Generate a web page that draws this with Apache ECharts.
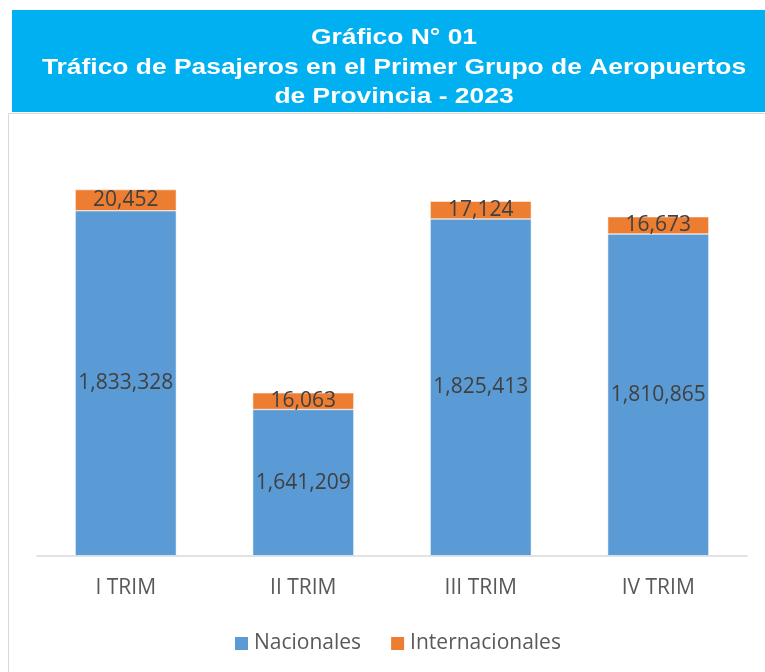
<!DOCTYPE html>
<html><head><meta charset="utf-8">
<script src="https://cdn.jsdelivr.net/npm/echarts@6/dist/echarts.min.js"></script>
<style>html,body{margin:0;padding:0;background:#fff}#c{width:765px;height:672px}</style>
</head><body><div id="c"></div>
<script>
const categories = ['I TRIM', 'II TRIM', 'III TRIM', 'IV TRIM'];
const nacionales = [1833328, 1641209, 1825413, 1810865];
const internacionales = [20452, 16063, 17124, 16673];
const seriesNames = ['Nacionales', 'Internacionales'];
const titleLines = ['Gráfico N° 01', 'Tráfico de Pasajeros en el Primer Grupo de Aeropuertos', 'de Provincia - 2023'];

const fmt = v => v.toLocaleString('en-US');
const chart = echarts.init(document.getElementById('c'));
const labelStyle = {show: true, color: '#404040', fontSize: 21, fontFamily: 'Open Sans', formatter: p => fmt(p.value)};
chart.setOption({
  animation: false,
  graphic: [
    {type: 'rect', shape: {x: 8.5, y: 113.5, width: 800, height: 600}, style: {fill: 'none', stroke: '#d9d9d9', lineWidth: 1}, z: 0},
    {type: 'rect', shape: {x: 12, y: 10, width: 753, height: 102}, style: {fill: '#00B0F0'}, z: 1},
    {type: 'text', x: 394, y: 67.5, scaleX: 1.2, style: {text: titleLines.join('\n'), fill: '#fff', font: 'bold 22px "Liberation Sans", Arial', textAlign: 'center', textVerticalAlign: 'middle', lineHeight: 29.5}, z: 2}
  ],
  grid: {left: 37, right: 18, top: 141.8, bottom: 116.5},
  xAxis: {type: 'category', data: categories,
    axisLine: {lineStyle: {color: '#d9d9d9', width: 1.5}}, axisTick: {show: false},
    axisLabel: {color: '#595959', fontSize: 21, fontFamily: 'Open Sans', margin: 22}},
  yAxis: {type: 'value', min: 1500000, max: 1900000, show: false, splitLine: {show: false}},
  legend: {data: seriesNames, bottom: 13, left: 228, itemWidth: 15, itemHeight: 15, itemGap: 28, icon: 'rect',
    textStyle: {color: '#595959', fontSize: 21, fontFamily: 'Open Sans'}},
  series: [
    {name: seriesNames[0], type: 'bar', stack: 't', data: nacionales, barWidth: '57%',
      itemStyle: {color: '#5B9BD5', borderColor: '#ffffff', borderWidth: 0.5},
      label: Object.assign({position: 'inside'}, labelStyle)},
    {name: seriesNames[1], type: 'bar', stack: 't', data: internacionales, barWidth: '57%',
      itemStyle: {color: '#ED7D31', borderColor: '#ffffff', borderWidth: 0.5},
      label: Object.assign({position: 'inside'}, labelStyle)}
  ]
});
</script></body></html>
